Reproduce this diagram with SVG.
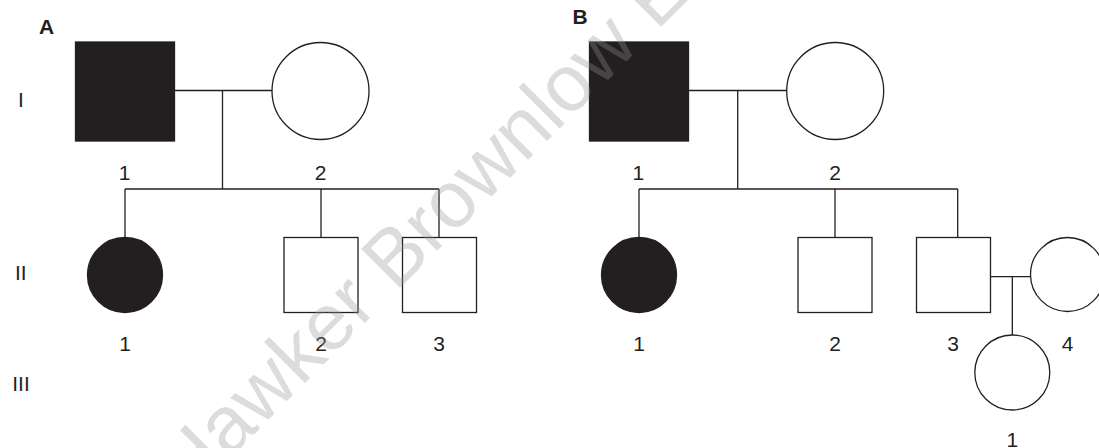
<svg xmlns="http://www.w3.org/2000/svg" width="1099" height="448" viewBox="0 0 1099 448">
  <style>
    .ln { stroke: #231f20; stroke-width: 1.3; fill: none; }
    .open { stroke: #231f20; stroke-width: 1.3; fill: #ffffff; }
    .aff { stroke: #231f20; stroke-width: 1.3; fill: #231f20; }
    .lbl { font-family: "Liberation Sans", Arial, sans-serif; font-size: 21px; fill: #231f20; text-anchor: middle; }
    .gen { font-family: "Liberation Sans", Arial, sans-serif; font-size: 21px; fill: #231f20; text-anchor: middle; }
    .pan { font-family: "Liberation Sans", Arial, sans-serif; font-size: 21px; font-weight: bold; fill: #231f20; text-anchor: middle; }
    .wm { font-family: "Liberation Sans", Arial, sans-serif; font-size: 80px; fill: #939393; fill-opacity: 0.32; }
  </style>
  <rect width="1099" height="448" fill="#ffffff"/>

  <!-- panel letters and generation numerals -->
  <g id="headings">
    <text class="pan" x="46.5" y="34">A</text>
    <text class="pan" x="580" y="24">B</text>
    <text class="gen" x="20.8" y="107">I</text>
    <text class="gen" x="20.8" y="280">II</text>
    <text class="gen" x="21" y="390.7">III</text>
  </g>

  <!-- connectors -->
  <g id="connectors" class="ln">
    <!-- pedigree A -->
    <path d="M174.5 90.5 H272"/>
    <path d="M222.5 90.5 V189"/>
    <path d="M125 189 H439"/>
    <path d="M125 189 V237.5 M321 189 V237.5 M439 189 V237.5"/>
    <!-- pedigree B -->
    <path d="M688.5 90.5 H786.5"/>
    <path d="M737.7 90.5 V189"/>
    <path d="M639 189 H957.7"/>
    <path d="M639 189 V237.5 M835 189 V237.5 M957.7 189 V237.5"/>
    <path d="M990.5 276.7 H1030.5"/>
    <path d="M1012.3 276.7 V335"/>
  </g>

  <!-- pedigree A -->
  <g id="A-I-1"><rect class="aff" x="75.5" y="42" width="99" height="99"/><text class="lbl" x="124.5" y="180">1</text></g>
  <g id="A-I-2"><circle class="open" cx="320.5" cy="91" r="48.5"/><text class="lbl" x="320.5" y="180">2</text></g>
  <g id="A-II-1"><circle class="aff" cx="125" cy="275" r="37.5"/><text class="lbl" x="125" y="350.7">1</text></g>
  <g id="A-II-2"><rect class="open" x="284" y="237.5" width="74" height="75"/><text class="lbl" x="321" y="350.7">2</text></g>
  <g id="A-II-3"><rect class="open" x="402.5" y="237.5" width="74" height="75"/><text class="lbl" x="439" y="350.7">3</text></g>

  <!-- pedigree B -->
  <g id="B-I-1"><rect class="aff" x="589.5" y="42" width="99" height="99"/><text class="lbl" x="638.3" y="180">1</text></g>
  <g id="B-I-2"><circle class="open" cx="835.2" cy="91" r="48.5"/><text class="lbl" x="835" y="180">2</text></g>
  <g id="B-II-1"><circle class="aff" cx="639" cy="275" r="37.5"/><text class="lbl" x="639" y="350.7">1</text></g>
  <g id="B-II-2"><rect class="open" x="798" y="237.5" width="74" height="75"/><text class="lbl" x="835" y="350.7">2</text></g>
  <g id="B-II-3"><rect class="open" x="916.5" y="237.5" width="74" height="75"/><text class="lbl" x="953" y="350.7">3</text></g>
  <g id="B-II-4"><circle class="open" cx="1067.5" cy="274.5" r="37"/><text class="lbl" x="1067.5" y="350.7">4</text></g>
  <g id="B-III-1"><circle class="open" cx="1012.3" cy="372.5" r="37.5"/><text class="lbl" x="1012.3" y="447">1</text></g>

  <!-- publisher watermark -->
  <text class="wm" transform="translate(188 500) rotate(-45)">Hawker Brownlow Education</text>
</svg>
